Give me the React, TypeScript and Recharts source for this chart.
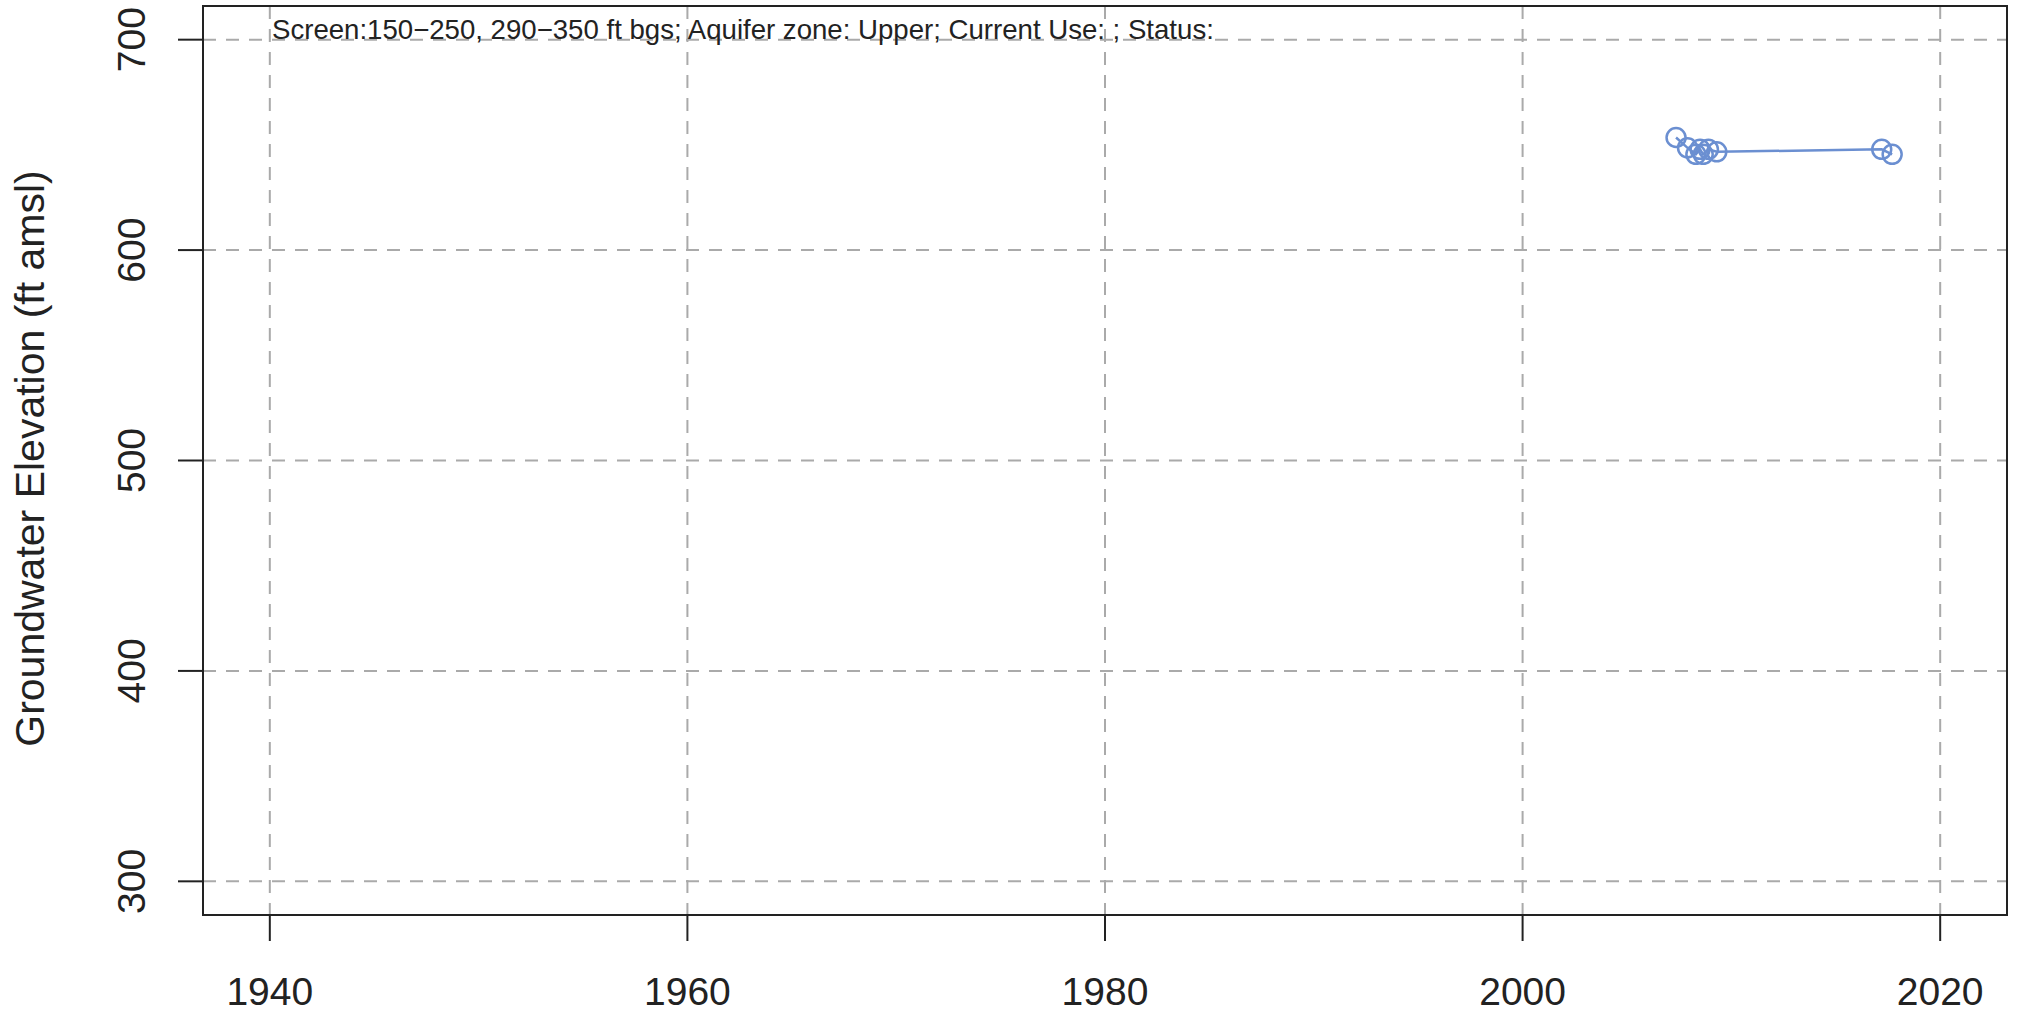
import {
  ComposedChart,
  Line,
  XAxis,
  YAxis,
  CartesianGrid,
  ReferenceArea,
} from "recharts";

const years = [2007.35, 2007.9, 2008.3, 2008.5, 2008.65, 2008.9, 2009.3, 2017.2, 2017.7];
const elevations = [653.5, 648.6, 645.5, 647.9, 645.5, 647.9, 646.7, 647.9, 645.5];
const xTicks = [1940, 1960, 1980, 2000, 2020];
const yTicks = [300, 400, 500, 600, 700];
const note = "Screen:150\u2212250, 290\u2212350 ft bgs; Aquifer zone: Upper; Current Use: ; Status:";
const yTitle = "Groundwater Elevation (ft amsl)";

const data = years.map((year, i) => ({ year, elev: elevations[i] }));

const FONT = "'Liberation Sans', Arial, Helvetica, sans-serif";
const INK = "#222222";
const BLUE = "#6B8FD1";
const xDomain = [1936.8, 2023.2];
const yDomain = [284, 716];

const YTick = ({ x, y, payload }: any) => (
  <text
    x={x}
    y={y}
    transform={`rotate(-90, ${x}, ${y})`}
    textAnchor="middle"
    fontSize={39}
    fontFamily={FONT}
    fill={INK}
  >
    {payload.value}
  </text>
);

const YTitle = ({ viewBox }: any) => {
  const cx = viewBox.x + 44;
  const cy = viewBox.y + viewBox.height / 2 - 2;
  return (
    <text
      x={cx}
      y={cy}
      transform={`rotate(-90, ${cx}, ${cy})`}
      textAnchor="middle"
      fontSize={41}
      fontFamily={FONT}
      fill={INK}
    >
      {yTitle}
    </text>
  );
};

const Note = ({ viewBox }: any) => (
  <text x={viewBox.x + 69} y={viewBox.y + 33} fontSize={27.6} fontFamily={FONT} fill={INK}>
    {note}
  </text>
);

export default function App() {
  return (
    <div style={{ position: "absolute", left: 0, top: 0, background: "#fff" }}>
      <ComposedChart
        width={2021}
        height={1013}
        data={data}
        margin={{ top: 6, right: 14, bottom: 0, left: 0 }}
      >
        <CartesianGrid stroke="#AAAAAA" strokeWidth={2} strokeDasharray="13 10" />
        <XAxis
          dataKey="year"
          type="number"
          domain={xDomain}
          ticks={xTicks}
          allowDataOverflow
          height={98}
          axisLine={false}
          tickSize={26}
          tickMargin={36}
          tickLine={{ stroke: INK, strokeWidth: 2 }}
          tick={{ fontSize: 39, fontFamily: FONT, fill: INK }}
        />
        <YAxis
          dataKey="elev"
          type="number"
          domain={yDomain}
          ticks={yTicks}
          allowDataOverflow
          width={203}
          axisLine={false}
          tickSize={25}
          tickMargin={33}
          tickLine={{ stroke: INK, strokeWidth: 2 }}
          tick={<YTick />}
          label={<YTitle />}
        />
        <ReferenceArea
          x1={xDomain[0]}
          x2={xDomain[1]}
          y1={yDomain[0]}
          y2={yDomain[1]}
          fill="none"
          stroke={INK}
          strokeWidth={2}
          label={<Note />}
        />
        <Line
          dataKey="elev"
          type="linear"
          stroke={BLUE}
          strokeWidth={2.5}
          dot={{ r: 9.5, stroke: BLUE, strokeWidth: 2.5, fill: "none" }}
          isAnimationActive={false}
        />
      </ComposedChart>
    </div>
  );
}
